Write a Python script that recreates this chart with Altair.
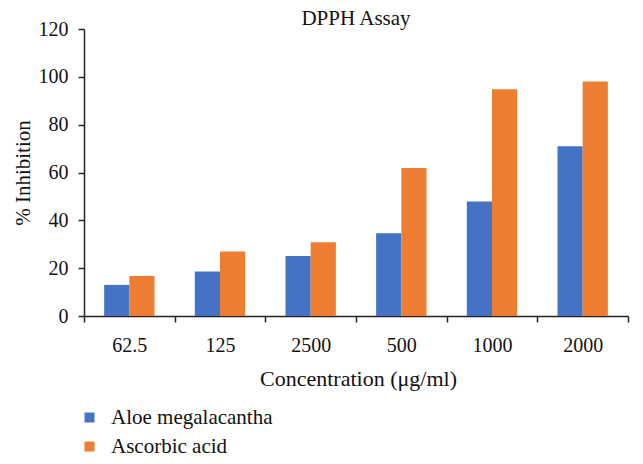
import altair as alt
import pandas as pd

concentrations = ["62.5", "125", "2500", "500", "1000", "2000"]
aloe = [13.0, 18.6, 25.1, 34.6, 47.9, 71.0]
ascorbic = [16.7, 27.0, 30.8, 61.9, 94.8, 98.1]
series = ["Aloe megalacantha", "Ascorbic acid"]
colors = ["#4472C4", "#ED7D31"]

rows = []
for c, a, s in zip(concentrations, aloe, ascorbic):
    rows.append({"conc": c, "series": series[0], "value": a})
    rows.append({"conc": c, "series": series[1], "value": s})
df = pd.DataFrame(rows)

FONT = "Liberation Serif, Times New Roman, serif"
W, H = 544, 287

chart = alt.Chart(df).mark_bar().encode(
    x=alt.X("conc:N", sort=concentrations,
            scale=alt.Scale(paddingInner=0, paddingOuter=0),
            axis=alt.Axis(title="Concentration (\u03bcg/ml)", labelAngle=0,
                          tickBand="extent", tickSize=6, labelPadding=13,
                          labelFont=FONT, titleFont=FONT,
                          labelFontSize=20, titleFontSize=22,
                          titleFontWeight="normal",
                          titleX=W / 2 + 2, titleY=62, titleBaseline="middle",
                          titleAlign="center")),
    xOffset=alt.XOffset("series:N", sort=series,
                        scale=alt.Scale(paddingOuter=0.8, paddingInner=0)),
    y=alt.Y("value:Q",
            scale=alt.Scale(domain=[0, 120], nice=False, zero=True),
            axis=alt.Axis(title="% Inhibition", values=[0, 20, 40, 60, 80, 100, 120],
                          grid=False, tickSize=6, labelPadding=10,
                          labelFont=FONT, titleFont=FONT,
                          labelFontSize=20, titleFontSize=21,
                          titleFontWeight="normal", titleAngle=270,
                          titleX=-61, titleY=H / 2, titleAlign="center",
                          titleBaseline="middle")),
    color=alt.Color("series:N", sort=series,
                    scale=alt.Scale(domain=series, range=colors),
                    legend=alt.Legend(title=None, orient="none", legendX=-5,
                                      legendY=378, symbolType="square",
                                      symbolSize=100, symbolStrokeWidth=0,
                                      labelFont=FONT, labelLimit=400,
                                      labelFontSize=21, labelOffset=11,
                                      rowPadding=7, padding=0,
                                      labelColor="#111111")),
).properties(
    width=W,
    height=H,
    title=alt.TitleParams("DPPH Assay", anchor="middle", baseline="alphabetic",
                          frame="group", offset=1, dy=28, fontSize=21,
                          fontWeight="normal", font=FONT, color="#111111"),
    autosize=alt.AutoSizeParams(type="none"),
    padding={"left": 76, "top": 21, "right": 5, "bottom": 140},
).configure(
    font=FONT,
).configure_axis(
    labelColor="#111111", titleColor="#111111",
    domainColor="#222222", tickColor="#222222", domainWidth=1.5, tickWidth=1.5,
).configure_view(
    stroke=None,
)

chart.save("out.html", embed_options={"renderer": "svg", "actions": False})
